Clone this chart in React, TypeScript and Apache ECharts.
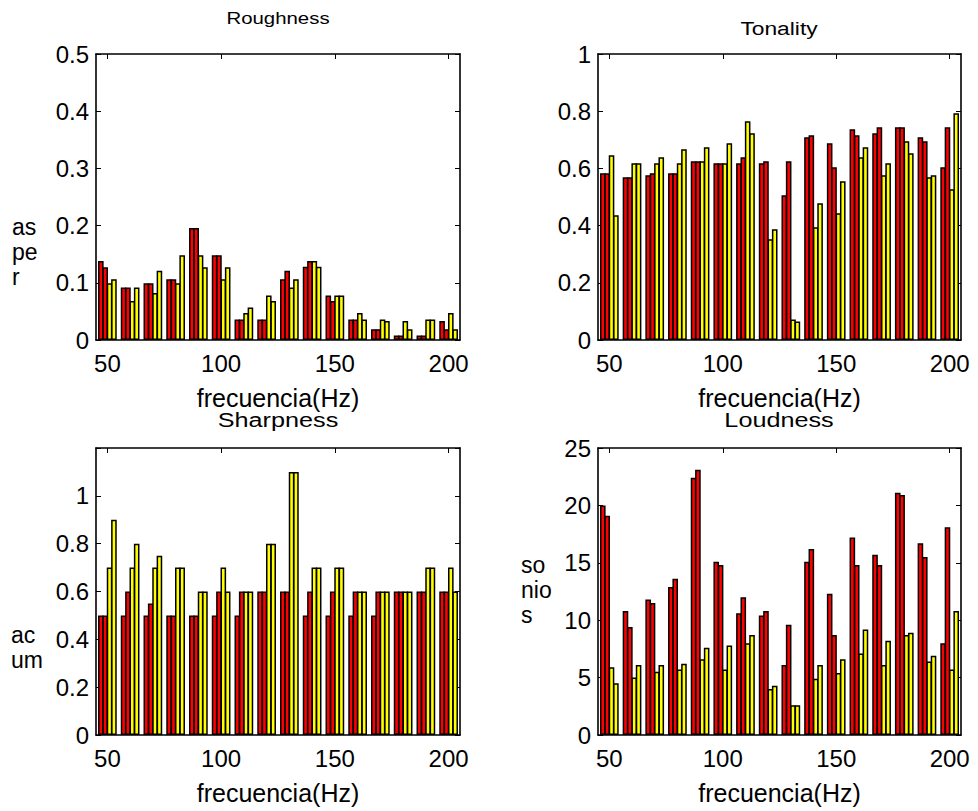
import React, { useEffect, useRef } from "react";
import * as echarts from "echarts";

const freqs = [50, 60, 70, 80, 90, 100, 110, 120, 130, 140, 150, 160, 170, 180, 190, 200];

const roughRed1 = [0.138, 0.092, 0.099, 0.106, 0.196, 0.148, 0.036, 0.036, 0.106, 0.128, 0.078, 0.036, 0.019, 0.008, 0.008, 0.033];
const roughRed2 = [0.127, 0.092, 0.099, 0.106, 0.196, 0.148, 0.036, 0.036, 0.121, 0.138, 0.068, 0.036, 0.019, 0.008, 0.008, 0.019];
const roughYel1 = [0.099, 0.068, 0.082, 0.099, 0.148, 0.106, 0.047, 0.078, 0.092, 0.138, 0.078, 0.047, 0.036, 0.033, 0.036, 0.047];
const roughYel2 = [0.106, 0.092, 0.121, 0.148, 0.127, 0.127, 0.057, 0.068, 0.106, 0.128, 0.078, 0.036, 0.033, 0.019, 0.036, 0.019];

const tonRed1 = [0.583, 0.569, 0.576, 0.583, 0.625, 0.618, 0.618, 0.618, 0.506, 0.709, 0.688, 0.737, 0.723, 0.744, 0.709, 0.604];
const tonRed2 = [0.583, 0.569, 0.583, 0.583, 0.625, 0.618, 0.639, 0.625, 0.625, 0.716, 0.604, 0.716, 0.744, 0.744, 0.695, 0.744];
const tonYel1 = [0.646, 0.618, 0.618, 0.618, 0.625, 0.618, 0.765, 0.352, 0.072, 0.394, 0.443, 0.639, 0.576, 0.695, 0.569, 0.527];
const tonYel2 = [0.436, 0.618, 0.639, 0.667, 0.674, 0.688, 0.723, 0.387, 0.065, 0.478, 0.555, 0.674, 0.618, 0.653, 0.576, 0.793];

const sharpRed1 = [0.5, 0.5, 0.5, 0.5, 0.5, 0.5, 0.5, 0.6, 0.6, 0.5, 0.5, 0.5, 0.5, 0.6, 0.6, 0.6];
const sharpRed2 = [0.5, 0.6, 0.55, 0.5, 0.5, 0.6, 0.6, 0.6, 0.6, 0.6, 0.6, 0.6, 0.6, 0.6, 0.6, 0.6];
const sharpYel1 = [0.7, 0.7, 0.7, 0.7, 0.6, 0.7, 0.6, 0.8, 1.1, 0.7, 0.7, 0.6, 0.6, 0.6, 0.7, 0.7];
const sharpYel2 = [0.9, 0.8, 0.75, 0.7, 0.6, 0.6, 0.6, 0.8, 1.1, 0.7, 0.7, 0.6, 0.6, 0.6, 0.7, 0.6];

const loudRed1 = [20.0, 10.8, 11.8, 12.9, 22.4, 15.1, 10.6, 10.4, 6.1, 15.1, 12.3, 17.2, 15.7, 21.1, 16.7, 8.0];
const loudRed2 = [19.1, 9.4, 11.5, 13.6, 23.1, 14.8, 12.0, 10.8, 9.6, 16.2, 8.7, 14.8, 14.8, 20.9, 15.5, 18.1];
const loudYel1 = [5.9, 5.0, 5.5, 5.7, 6.6, 5.7, 8.0, 4.0, 2.6, 4.9, 5.4, 7.1, 6.1, 8.7, 6.4, 5.7];
const loudYel2 = [4.5, 6.1, 6.1, 6.2, 7.6, 7.8, 8.7, 4.3, 2.6, 6.1, 6.6, 9.2, 8.2, 8.9, 6.9, 10.8];

const xTicks = [50, 100, 150, 200];
const titles = ["Roughness", "Tonality", "Sharpness", "Loudness"];
const yLabels = ["as\npe\nr", "", "ac\num", "so\nnio\ns"];
const xName = "frecuencia(Hz)";

const FONT = "Liberation Sans, Arial, Helvetica, sans-serif";
const RED = "#ff0000";
const YELLOW = "#ffff00";

const panels = [
  { data: [roughRed1, roughRed2, roughYel1, roughYel2], yMax: 0.5, yStep: 0.1, yLabelVals: [0, 0.1, 0.2, 0.3, 0.4, 0.5] },
  { data: [tonRed1, tonRed2, tonYel1, tonYel2], yMax: 1, yStep: 0.2, yLabelVals: [0, 0.2, 0.4, 0.6, 0.8, 1] },
  { data: [sharpRed1, sharpRed2, sharpYel1, sharpYel2], yMax: 1.2, yStep: 0.2, yLabelVals: [0, 0.2, 0.4, 0.6, 0.8, 1] },
  { data: [loudRed1, loudRed2, loudYel1, loudYel2], yMax: 25, yStep: 5, yLabelVals: [0, 5, 10, 15, 20, 25] },
];

const grids = [
  { left: 96, top: 54, width: 364, height: 286 },
  { left: 598, top: 54, width: 363, height: 286 },
  { left: 96, top: 448, width: 364, height: 287 },
  { left: 598, top: 448, width: 363, height: 287 },
];

export default function App() {
  const ref = useRef<HTMLDivElement>(null);
  useEffect(() => {
    if (!ref.current) return;
    const chart = echarts.init(ref.current, null, { renderer: "svg" });

    const lineStyle = { color: "#000", width: 1.6 };
    const xAxis: any[] = [];
    const yAxis: any[] = [];
    const series: any[] = [];

    panels.forEach((p, i) => {
      xAxis.push({
        type: "value",
        gridIndex: i,
        min: 45,
        max: 205,
        position: "bottom",
        name: xName,
        nameLocation: "middle",
        nameGap: 45,
        nameTextStyle: { fontFamily: FONT, fontSize: 25, color: "#000" },
        axisLine: { show: true, onZero: false, lineStyle },
        axisTick: { show: true, inside: true, length: 5, lineStyle: { color: "#000", width: 1 }, customValues: xTicks },
        axisLabel: { show: true, customValues: xTicks, margin: 11, fontFamily: FONT, fontSize: 24, color: "#000" },
        splitLine: { show: false },
      });
      xAxis.push({
        type: "value",
        gridIndex: i,
        min: 45,
        max: 205,
        position: "top",
        axisLine: { show: true, onZero: false, lineStyle },
        axisTick: { show: true, inside: true, length: 5, lineStyle: { color: "#000", width: 1 }, customValues: xTicks },
        axisLabel: { show: false },
        splitLine: { show: false },
      });
      yAxis.push({
        type: "value",
        gridIndex: i,
        min: 0,
        max: p.yMax,
        interval: p.yStep,
        position: "left",
        axisLine: { show: true, onZero: false, lineStyle },
        axisTick: { show: true, inside: true, length: 5, lineStyle: { color: "#000", width: 1 } },
        axisLabel: { show: true, customValues: p.yLabelVals, margin: 7, fontFamily: FONT, fontSize: 24, color: "#000" },
        splitLine: { show: false },
      });
      yAxis.push({
        type: "value",
        gridIndex: i,
        min: 0,
        max: p.yMax,
        interval: p.yStep,
        position: "right",
        axisLine: { show: true, onZero: false, lineStyle },
        axisTick: { show: true, inside: true, length: 5, lineStyle: { color: "#000", width: 1 } },
        axisLabel: { show: false },
        splitLine: { show: false },
      });
      p.data.forEach((vals, k) => {
        series.push({
          type: "bar",
          xAxisIndex: i * 2,
          yAxisIndex: i * 2,
          barWidth: 5.6,
          barGap: "-22%",
          silent: true,
          itemStyle: { color: k < 2 ? RED : YELLOW, borderColor: "#000", borderWidth: 1.5 },
          data: freqs.map((f, j) => [f, vals[j]]),
        });
      });
    });

    const titlePos = [
      { x: 278, y: 18, size: 17 },
      { x: 779, y: 28, size: 19 },
      { x: 278, y: 420, size: 21 },
      { x: 779, y: 420, size: 21 },
    ];
    const graphic: any[] = titles.map((t, i) => ({
      type: "text",
      x: titlePos[i].x,
      y: titlePos[i].y,
      scaleX: 1.2,
      silent: true,
      style: { text: t, fontFamily: FONT, fontSize: titlePos[i].size, fill: "#000", align: "center", verticalAlign: "middle" },
    }));
    const yLabPos = [
      { x: 12, y: 252 },
      null,
      { x: 11, y: 647 },
      { x: 521, y: 590 },
    ];
    yLabels.forEach((t, i) => {
      const pos = yLabPos[i];
      if (!t || !pos) return;
      graphic.push({
        type: "text",
        x: pos.x,
        y: pos.y,
        silent: true,
        style: { text: t, fontFamily: FONT, fontSize: 23, lineHeight: 25, fill: "#000", align: "left", verticalAlign: "middle" },
      });
    });

    chart.setOption({
      animation: false,
      backgroundColor: "#fff",
      grid: grids.map((g) => ({ ...g, show: false, containLabel: false })),
      xAxis,
      yAxis,
      series,
      graphic,
    });
    return () => chart.dispose();
  }, []);
  return <div ref={ref} style={{ position: "fixed", left: 0, top: 0, width: 978, height: 811, background: "#fff" }} />;
}
